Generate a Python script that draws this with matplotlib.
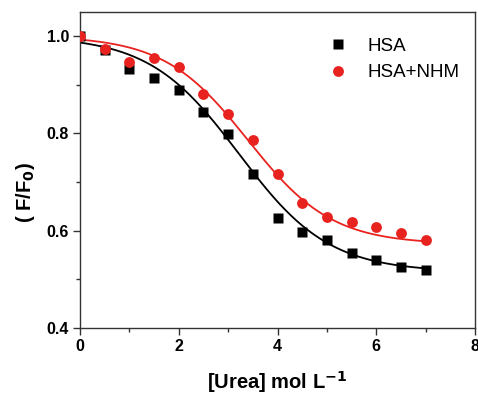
import numpy as np
import matplotlib
matplotlib.use("Agg")
import matplotlib.pyplot as plt
from matplotlib.ticker import MultipleLocator

plt.rcParams['font.family'] = ['Liberation Sans', 'DejaVu Sans']

# Urea concentration (mol/L)
urea = [0, 0.5, 1, 1.5, 2, 2.5, 3, 3.5, 4, 4.5, 5, 5.5, 6, 6.5, 7]
# Relative fluorescence F/F0
hsa = [1.0, 0.970, 0.931, 0.913, 0.888, 0.844, 0.799, 0.716, 0.625,
       0.598, 0.580, 0.555, 0.539, 0.525, 0.519]
hsa_nhm = [1.0, 0.974, 0.946, 0.954, 0.937, 0.880, 0.839, 0.786, 0.716,
           0.656, 0.627, 0.618, 0.608, 0.596, 0.580]

# Boltzmann fit parameters: A1, A2, x0, dx
fit_hsa = [1.0, 0.515, 3.22, 0.91]
fit_hsa_nhm = [1.0, 0.572, 3.40, 0.85]


def boltzmann(x, p):
    a1, a2, x0, dx = p
    return a2 + (a1 - a2) / (1 + np.exp((x - x0) / dx))


fig = plt.figure(figsize=(4.78, 3.98), dpi=100)
ax = fig.add_axes([0.1674, 0.1759, 0.8263, 0.7939])

xs = np.linspace(0, 7, 300)
ax.plot(xs, boltzmann(xs, fit_hsa), color='black', lw=1.3, zorder=2)
ax.plot(xs, boltzmann(xs, fit_hsa_nhm), color='#e8231f', lw=1.3, zorder=2)
ax.plot(urea, hsa, 's', color='black', ms=6.8, mec='none', zorder=3, label='HSA')
ax.plot(urea, hsa_nhm, 'o', color='#e8231f', ms=7.8, mec='none', zorder=4, label='HSA+NHM')

ax.set_xlim(0, 8)
ax.set_ylim(0.4, 1.049)
ax.xaxis.set_major_locator(MultipleLocator(2))
ax.xaxis.set_minor_locator(MultipleLocator(1))
ax.yaxis.set_major_locator(MultipleLocator(0.2))
ax.yaxis.set_minor_locator(MultipleLocator(0.1))
ax.tick_params(which='both', direction='out', top=False, right=False,
               color='#333333', width=1.0)
ax.tick_params(which='major', length=5, labelsize=11.5, pad=3)
ax.tick_params(which='minor', length=3)
for lab in ax.get_xticklabels() + ax.get_yticklabels():
    lab.set_fontweight('bold')
for s in ax.spines.values():
    s.set_color('#333333')
    s.set_linewidth(1.0)

ax.set_xlabel('[Urea] mol L$^{\\mathbf{-1}}$', fontsize=14.5, fontweight='bold', labelpad=11)
ax.set_ylabel('( F/F$_{\\mathbf{0}}$)', fontsize=14.5, fontweight='bold')
ax.yaxis.set_label_coords(-0.109, 0.43)

ax.legend(loc='upper left', bbox_to_anchor=(0.599, 0.942), frameon=False,
          fontsize=13.5, handlelength=1.5, handletextpad=0.8,
          labelspacing=0.49, borderaxespad=0.0, borderpad=0.4)

fig.savefig('out.png', dpi=100)
